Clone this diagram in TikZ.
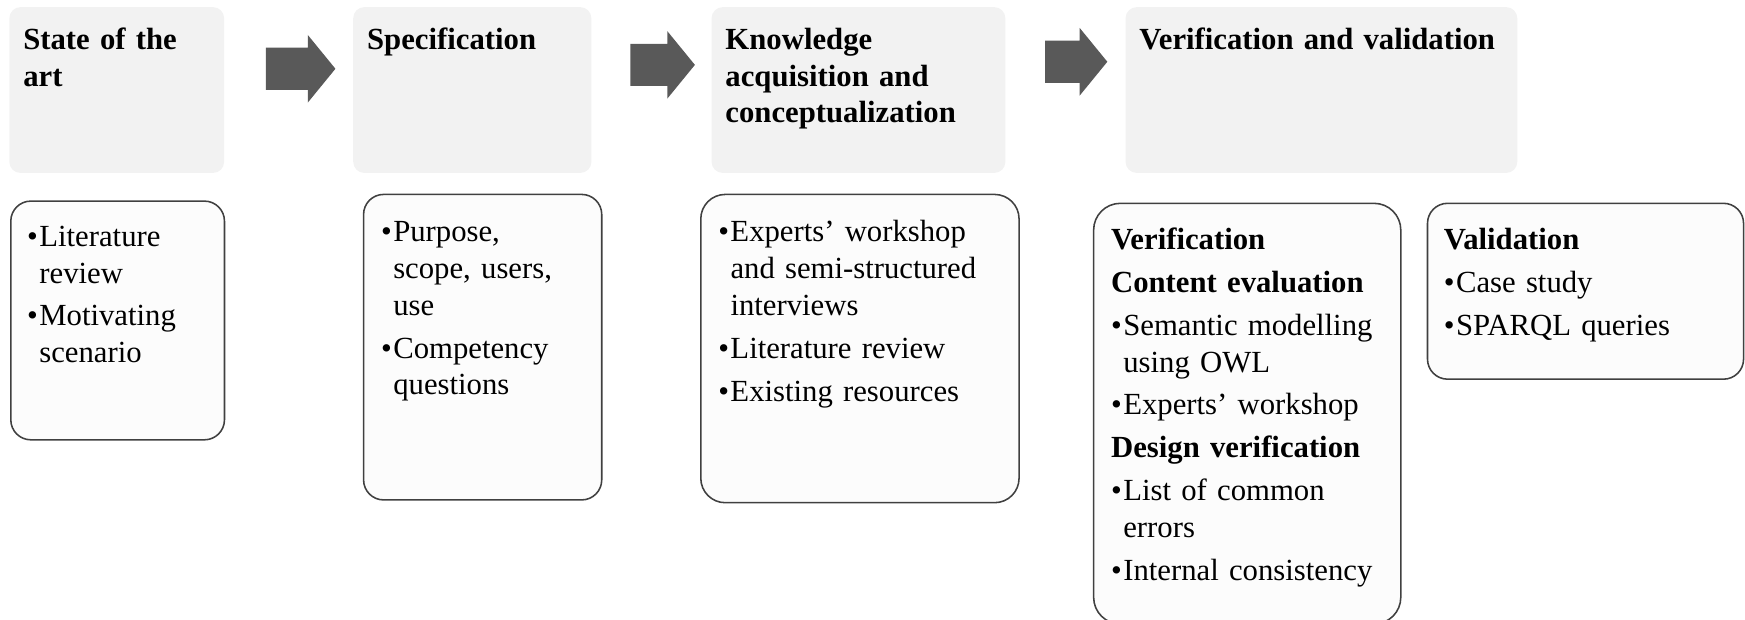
\documentclass[tikz,border=0pt]{standalone}
\usepackage{fontspec}
\setmainfont{Liberation Serif}
\usetikzlibrary{positioning,shapes.arrows}
\definecolor{phasegray}{HTML}{F2F2F2}
\definecolor{arrowgray}{HTML}{595959}
\definecolor{boxline}{HTML}{404040}
\newcommand{\hstrut}{\rule{0pt}{11pt}}
\newcommand{\bitem}[1]{\hangindent=5.5pt\hangafter=1\noindent\hstrut\makebox[5.5pt][l]{\textbullet}#1\par}
\newcommand{\bhead}[1]{\noindent\hstrut\textbf{#1}\par}
\tikzset{
	phase/.style={fill=phasegray, rounded corners=5pt, inner sep=0pt, minimum height=74.5pt, anchor=north west},
	detail/.style={draw=boxline, line width=0.7pt, fill=white!99!black, rounded corners=9pt, inner sep=0pt, anchor=north west},
	ptext/.style={inner sep=0pt, text width=220pt, align=left, font=\fontsize{13.8pt}{16.5pt}\selectfont, execute at begin node=\setlength{\parskip}{2.75pt}},
	htext/.style={ptext, font=\fontsize{13.8pt}{16.5pt}\selectfont\bfseries},
	blockarrow/.style={single arrow, fill=arrowgray, inner xsep=0pt, inner ysep=9.25pt, minimum width=30pt, single arrow head extend=5.75pt, single arrow tip angle=101.5, anchor=tail}
}
\begin{document}
\begin{tikzpicture}[x=0.5pt,y=-0.5pt]
	\useasboundingbox (0,0) rectangle (1568,557);
	
	% phases
	\node[phase, minimum width=96.5pt] (P1) at (8,6) {};
	\node[phase, minimum width=107pt]  (P2) at (317,6) {};
	\node[phase, minimum width=132pt]  (P3) at (639,6) {};
	\node[phase, minimum width=176pt]  (P4) at (1011,6) {};
	
	\node(P1t) [htext, below right=8pt and 6.25pt of P1.north west] {\hstrut State of the\\art};
	\node(P2t) [htext, below right=8pt and 6.25pt of P2.north west] {\hstrut Specification};
	\node(P3t) [htext, below right=8pt and 6.25pt of P3.north west] {\hstrut Knowledge\\acquisition and\\conceptualization};
	\node(P4t) [htext, below right=8pt and 6.25pt of P4.north west] {\hstrut Verification and validation};
	
	% arrows between phases
	\node(R1) [blockarrow, minimum height=31.2pt] at (238.6,61.8) {};
	\node(R2) [blockarrow, minimum height=29pt]   at (566,58.3) {};
	\node(R3) [blockarrow, minimum height=28pt]   at (938.6,55.5) {};
	
	% details
	\node[detail, minimum width=96pt, minimum height=107.25pt] (D1) at (9,180) {};
	\node[detail, minimum width=107pt, minimum height=137.25pt] (D2) at (326,174) {};
	\node[detail, minimum width=143pt, minimum height=138.5pt, rounded corners=11pt] (D3) at (629,174) {};
	\node[detail, minimum width=138pt, minimum height=189pt, rounded corners=12pt] (D4) at (982,182) {};
	\node[detail, minimum width=142pt, minimum height=79pt] (D5) at (1282,182) {};
	
	\node(D1t) [ptext, below right=9.5pt and 7.5pt of D1.north west] {\bitem{Literature\newline review}\bitem{Motivating\newline scenario}};
	\node(D2t) [ptext, below right=10.5pt and 8pt of D2.north west] {\bitem{Purpose,\newline scope, users,\newline use}\bitem{Competency\newline questions}};
	\node(D3t) [ptext, below right=10.5pt and 8pt of D3.north west] {\bitem{Experts’ workshop\newline and semi-structured\newline interviews}\bitem{Literature review}\bitem{Existing resources}};
	\node(D4t) [ptext, below right=10pt and 8pt of D4.north west] {\bhead{Verification}\bhead{Content evaluation}\bitem{Semantic modelling\newline using OWL}\bitem{Experts’ workshop}\bhead{Design verification}\bitem{List of common\newline errors}\bitem{Internal consistency}};
	\node(D5t) [ptext, below right=10pt and 7.5pt of D5.north west] {\bhead{Validation}\bitem{Case study}\bitem{SPARQL queries}};
\end{tikzpicture}
\end{document}
